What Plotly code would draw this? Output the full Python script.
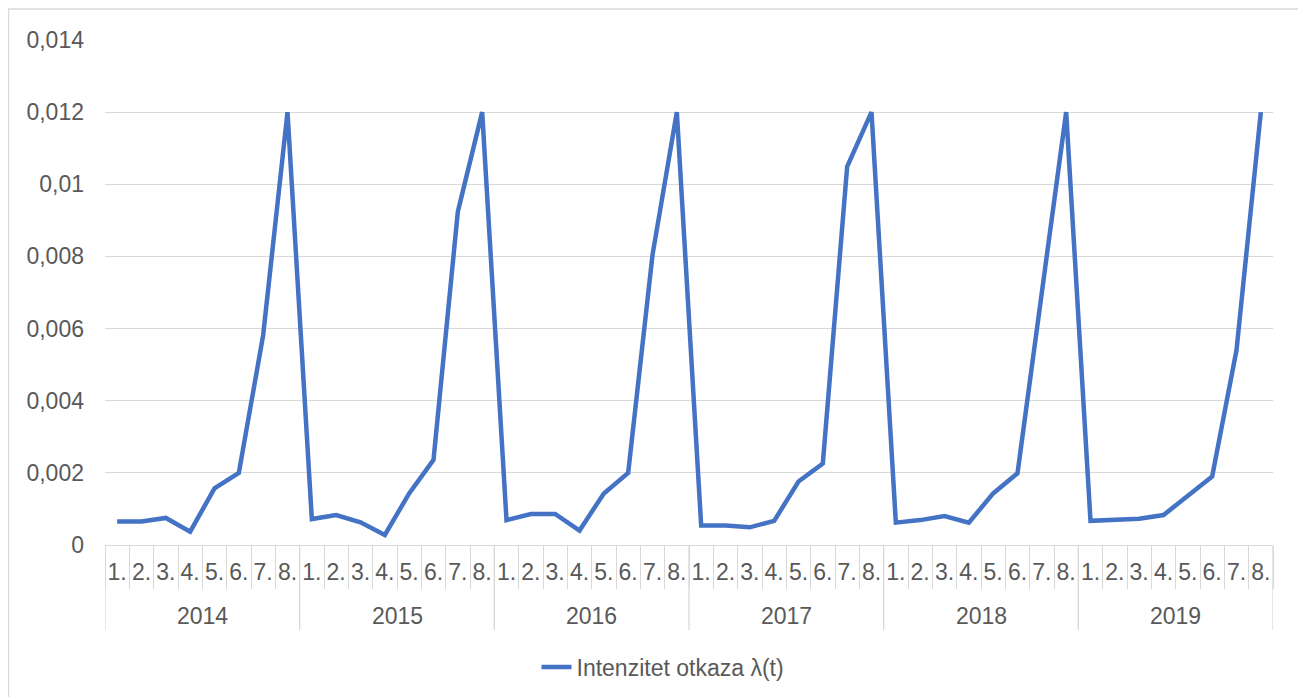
import plotly.graph_objects as go

years = ["2014", "2015", "2016", "2017", "2018", "2019"]
months = ["1.", "2.", "3.", "4.", "5.", "6.", "7.", "8."]
series_name = "Intenzitet otkaza λ(t)"
values = [
    0.00065, 0.00065, 0.00075, 0.00037, 0.00157, 0.00200, 0.00582, 0.01200,
    0.00072, 0.00083, 0.00063, 0.00028, 0.00143, 0.00236, 0.00924, 0.01200,
    0.00069, 0.00086, 0.00086, 0.00040, 0.00143, 0.00200, 0.00804, 0.01200,
    0.00054, 0.00054, 0.00049, 0.00067, 0.00176, 0.00226, 0.01049, 0.01200,
    0.00062, 0.00069, 0.00080, 0.00062, 0.00143, 0.00199, 0.00700, 0.01200,
    0.00067, 0.00069, 0.00073, 0.00083, 0.00136, 0.00190, 0.00540, 0.01200,
]
y_ticks = [0, 0.002, 0.004, 0.006, 0.008, 0.01, 0.012, 0.014]
y_ticktext = ["0", "0,002", "0,004", "0,006", "0,008", "0,01", "0,012", "0,014"]

# page is offset by 8px body margin
OFF = 8
W, H = 1306 - OFF, 697 - OFF
L, R, T = 105 - OFF, 33, 40 - OFF
PB = 545 - OFF            # plot bottom in figure pixels
B = H - PB
pw, ph = W - L - R, PB - T

n = len(months)
N = len(years) * n
xs = list(range(N))
labels = months * len(years)

TXT = "#595959"
GRID = "#d9d9d9"
FONT = "Liberation Sans, Arial, sans-serif"
FS = 23

fig = go.Figure()
fig.add_trace(go.Scatter(x=xs, y=values, mode="lines", name=series_name,
                         line=dict(color="#4472C4", width=4.5)))
fig.add_trace(go.Scatter(x=[-0.5, N - 0.5], y=[None, None], xaxis="x2",
                         showlegend=False, hoverinfo="skip"))

shapes = []
annotations = []
def py(page_y):
    return (PB - (page_y - OFF)) / ph
def pxp(page_x):
    return ((page_x - OFF) - L) / pw

for k in range(len(years) + 1):
    shapes.append(dict(type="line", xref="x", yref="paper",
                       x0=k * n - 0.5, x1=k * n - 0.5, y0=0, y1=py(630),
                       line=dict(color=GRID, width=1.3)))
for k, yr in enumerate(years):
    annotations.append(dict(x=k * n + (n - 1) / 2, y=py(616), xref="x", yref="paper",
                            text=yr, showarrow=False, yanchor="middle",
                            font=dict(size=FS, color=TXT, family=FONT)))
shapes.append(dict(type="rect", xref="paper", yref="paper",
                   x0=pxp(8.6), x1=pxp(1301), y0=py(705), y1=py(9),
                   line=dict(color=GRID, width=1.3), fillcolor="rgba(0,0,0,0)"))

fig.update_layout(
    width=W, height=H,
    margin=dict(l=L, r=R, t=T, b=B, autoexpand=False),
    paper_bgcolor="white", plot_bgcolor="white",
    font=dict(family=FONT, color=TXT, size=FS),
    xaxis=dict(range=[-0.5, N - 0.5], tickvals=xs, ticktext=labels,
               ticks="", showgrid=False, zeroline=False, automargin=False,
               showline=True, linecolor=GRID, linewidth=1.3,
               tickfont=dict(size=FS, color=TXT), ticklabelstandoff=6),
    xaxis2=dict(range=[-0.5, N - 0.5], overlaying="x", side="bottom", anchor="y",
                tickvals=[i - 0.5 for i in range(N + 1)], ticks="outside",
                ticklen=43, tickcolor=GRID, tickwidth=1.3, automargin=False,
                showticklabels=False, showgrid=False, zeroline=False, showline=False),
    yaxis=dict(range=[0, 0.014], tickvals=y_ticks, ticktext=y_ticktext,
               showgrid=True, gridcolor=GRID, gridwidth=1.3, zeroline=False,
               showline=False, ticks="", tickfont=dict(size=FS, color=TXT),
               ticklabelstandoff=20, automargin=False),
    showlegend=True,
    legend=dict(orientation="h", x=pxp(663), xanchor="center", y=py(667),
                yanchor="middle", font=dict(size=FS, color=TXT, family=FONT),
                bgcolor="rgba(0,0,0,0)"),
    shapes=shapes, annotations=annotations,
)

fig.write_html("out.html")
